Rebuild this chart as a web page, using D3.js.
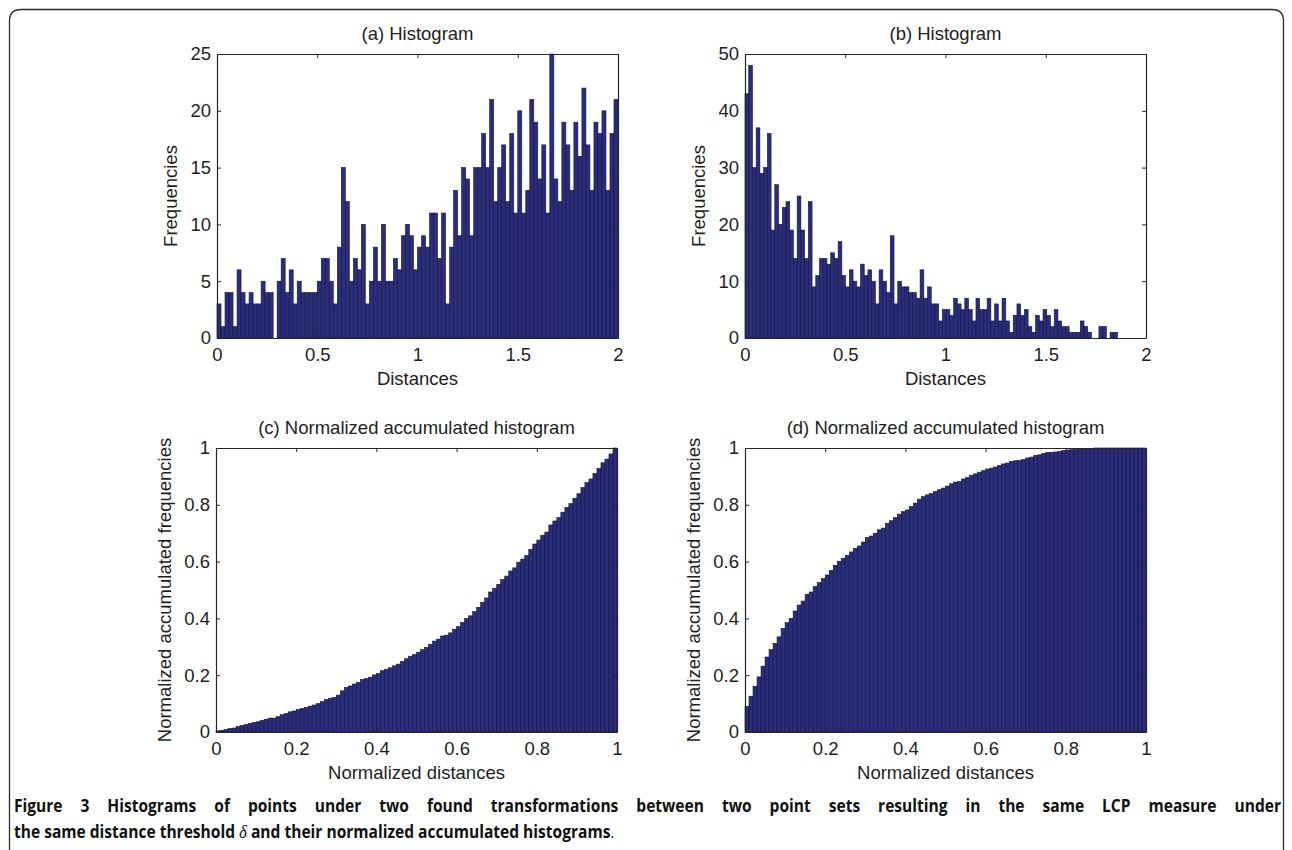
<!DOCTYPE html>
<html><head><meta charset="utf-8">
<script src="https://cdn.jsdelivr.net/npm/d3@7"></script>
<style>body{margin:0;background:#fff}svg{display:block}</style>
</head><body>
<svg id="fig" width="1292" height="850"></svg>
<script>
// ---- data ----
const histA = [3,1,4,4,1,6,4,3,4,3, 3,5,4,4,0,5,7,4,6,3, 5,4,4,4,4,5,7,7,5,3,
  8,15,12,5,7,6,10,3,5,8, 5,10,5,5,7,6,9,10,9,6, 8,9,8,11,11,7,11,3,8,13,
  9,15,14,9,15,15,18,15,21,12, 15,17,12,18,11,20,11,13,21,19,
  14,17,11,25,14,12,19,17,13,19, 16,22,17,13,19,18,20,13,18,21];
const histB = [43,48,30,37,29,30,36,19,27,20, 23,24,19,14,25,19,14,24,9,11,
  14,14,13,15,14,17,11,9,12,10, 9,13,11,12,10,6,12,10,8,18,
  6,10,9,9,8,8,7,12,7,9, 6,6,3,5,5,4,7,6,5,7, 5,3,7,5,5,7,3,6,3,7,
  3,1,4,6,4,5,2,1,4,3, 5,4,2,5,3,2,2,1,1,1, 3,2,1,0,0,2,2,0,1,1];
const accC = [0.004,0.006,0.009,0.012,0.014,0.019,0.023,0.026,0.03,0.033,
  0.036,0.041,0.045,0.049,0.049,0.054,0.061,0.065,0.071,0.074,
  0.079,0.083,0.087,0.091,0.095,0.1,0.107,0.114,0.119,0.122,
  0.13,0.145,0.157,0.162,0.169,0.175,0.185,0.188,0.193,0.201,
  0.206,0.216,0.221,0.226,0.233,0.239,0.248,0.258,0.267,0.273,
  0.281,0.29,0.298,0.309,0.32,0.327,0.338,0.341,0.349,0.362,
  0.371,0.386,0.4,0.409,0.424,0.439,0.457,0.472,0.493,0.505,
  0.52,0.537,0.549,0.567,0.578,0.598,0.609,0.622,0.643,0.662,
  0.676,0.693,0.704,0.729,0.743,0.755,0.774,0.791,0.804,0.823,
  0.839,0.861,0.878,0.891,0.91,0.928,0.948,0.961,0.979,1.0];
const accD = [0.09,0.126,0.161,0.194,0.232,0.264,0.29,0.312,0.335,0.365,
  0.385,0.4,0.426,0.447,0.461,0.485,0.493,0.512,0.526,0.54,
  0.553,0.569,0.587,0.601,0.612,0.622,0.634,0.647,0.655,0.669,
  0.685,0.69,0.7,0.712,0.718,0.735,0.744,0.755,0.767,0.776,
  0.782,0.794,0.806,0.82,0.829,0.835,0.84,0.847,0.853,0.859,
  0.866,0.874,0.88,0.882,0.891,0.896,0.904,0.909,0.915,0.92,
  0.926,0.929,0.933,0.939,0.944,0.947,0.953,0.955,0.956,0.959,
  0.965,0.968,0.974,0.976,0.981,0.984,0.985,0.986,0.988,0.991,
  0.993,0.994,0.995,0.996,0.997,0.998,0.999,1,1,1,
  1,1,1,1,1,1,1,1,1,1];
const binSpanA = [0, 2];
const binSpanB = [0, 1.858];
const binSpanNorm = [0, 1];
const xTicksHist = [0, 0.5, 1, 1.5, 2];
const yTicksA = [0, 5, 10, 15, 20, 25];
const yTicksB = [0, 10, 20, 30, 40, 50];
const ticksNorm = [0, 0.2, 0.4, 0.6, 0.8, 1];
const titles = ["(a) Histogram", "(b) Histogram", "(c) Normalized accumulated histogram", "(d) Normalized accumulated histogram"];
const xLabels = ["Distances", "Distances", "Normalized distances", "Normalized distances"];
const yLabels = ["Frequencies", "Frequencies", "Normalized accumulated frequencies", "Normalized accumulated frequencies"];
const captionLine1 = "Figure 3 Histograms of points under two found transformations between two point sets resulting in the same LCP measure under";
const captionLine2a = "the same distance threshold ";
const captionDelta = "δ";
const captionLine2b = " and their normalized accumulated histograms";

// ---- drawing ----
const svg = d3.select("#fig");
const FONT = "'Liberation Sans', Arial, sans-serif";
const FS = 18.5;
const TXT = "#1e1e1e";
const AX = "#262626";
const BAR = "#2a2c7c";
const EDGE = "#14143a";

// figure border (rounded top corners, open at the bottom)
svg.append("path")
  .attr("d", "M9.5,852 L9.5,21 Q9.5,9.5 21,9.5 L1272,9.5 Q1283.5,9.5 1283.5,21 L1283.5,852")
  .attr("fill", "none").attr("stroke", "#2a2a2a").attr("stroke-width", 1.3);

const panels = [
  {x: 217, y: 54, values: histA, span: binSpanA, xd: [0, 2], yd: [0, 25], xt: xTicksHist, yt: yTicksA, ylOff: 46},
  {x: 745, y: 54, values: histB, span: binSpanB, xd: [0, 2], yd: [0, 50], xt: xTicksHist, yt: yTicksB, ylOff: 46},
  {x: 216, y: 448, values: accC, span: binSpanNorm, xd: [0, 1], yd: [0, 1], xt: ticksNorm, yt: ticksNorm, ylOff: 51},
  {x: 745, y: 448, values: accD, span: binSpanNorm, xd: [0, 1], yd: [0, 1], xt: ticksNorm, yt: ticksNorm, ylOff: 51}
];
const W = 401, H = 284;

panels.forEach((p, i) => {
  const g = svg.append("g").attr("transform", `translate(${p.x},${p.y})`);
  const x = d3.scaleLinear().domain(p.xd).range([0, W]);
  const y = d3.scaleLinear().domain(p.yd).range([H, 0]);
  const n = p.values.length;
  const bw = (p.span[1] - p.span[0]) / n;
  g.selectAll("rect.bar").data(p.values).join("rect")
    .attr("class", "bar")
    .attr("x", (d, k) => x(p.span[0] + k * bw))
    .attr("width", (d, k) => x(p.span[0] + (k + 1) * bw) - x(p.span[0] + k * bw))
    .attr("y", d => y(d))
    .attr("height", d => y(0) - y(d))
    .attr("fill", BAR).attr("stroke", EDGE).attr("stroke-width", 0.6);

  const styleAxis = sel => {
    sel.select(".domain").attr("stroke", AX).attr("stroke-width", 1.2);
    sel.selectAll(".tick line").attr("stroke", AX).attr("stroke-width", 1);
    sel.selectAll("text").attr("font-family", FONT).attr("font-size", FS).attr("fill", TXT);
  };
  const fmt = d3.format("~g");
  g.append("g").attr("transform", `translate(0,${H})`)
    .call(d3.axisBottom(x).tickValues(p.xt).tickFormat(fmt).tickSizeInner(-4).tickSizeOuter(0).tickPadding(10))
    .call(styleAxis);
  g.append("g")
    .call(d3.axisTop(x).tickValues(p.xt).tickFormat("").tickSizeInner(-4).tickSizeOuter(0))
    .call(styleAxis);
  g.append("g")
    .call(d3.axisLeft(y).tickValues(p.yt).tickFormat(fmt).tickSizeInner(-4).tickSizeOuter(0).tickPadding(6))
    .call(styleAxis);
  g.append("g").attr("transform", `translate(${W},0)`)
    .call(d3.axisRight(y).tickValues(p.yt).tickFormat("").tickSizeInner(-4).tickSizeOuter(0))
    .call(styleAxis);

  g.append("text").attr("x", W / 2).attr("y", -14).attr("text-anchor", "middle")
    .attr("font-family", FONT).attr("font-size", FS).attr("fill", TXT).text(titles[i]);
  g.append("text").attr("x", W / 2).attr("y", H + 47).attr("text-anchor", "middle")
    .attr("font-family", FONT).attr("font-size", FS).attr("fill", TXT).text(xLabels[i]);
  g.append("text").attr("transform", `translate(${-p.ylOff},${H / 2}) rotate(-90)`)
    .attr("text-anchor", "middle").attr("dy", "0.35em")
    .attr("font-family", FONT).attr("font-size", FS).attr("fill", TXT).text(yLabels[i]);
});

// caption: a slightly condensed bold sans, line 1 justified by word spacing
const CFONT = "'Open Sans', 'Noto Sans', sans-serif";
const CFS = 17;
const SX = 0.915;
const c1 = svg.append("text").attr("transform", `translate(14,812) scale(${SX},1)`)
  .attr("font-family", CFONT).attr("font-size", CFS).attr("font-weight", "bold").attr("fill", "#111")
  .text(captionLine1);
const natural = c1.node().getComputedTextLength();
const gaps = captionLine1.split(" ").length - 1;
c1.attr("word-spacing", Math.max(0, (1267 / SX - natural) / gaps));

const c2 = svg.append("text").attr("transform", `translate(14,838) scale(${SX},1)`)
  .attr("font-family", CFONT).attr("font-size", CFS).attr("font-weight", "bold").attr("fill", "#111");
c2.append("tspan").text(captionLine2a);
c2.append("tspan").attr("font-family", "'Liberation Serif', 'DejaVu Serif', serif").attr("font-style", "italic").attr("font-weight", "normal").attr("font-size", 18.5).text(captionDelta);
c2.append("tspan").text(captionLine2b);
c2.append("tspan").attr("font-weight", "normal").text(".");
</script>
</body></html>
